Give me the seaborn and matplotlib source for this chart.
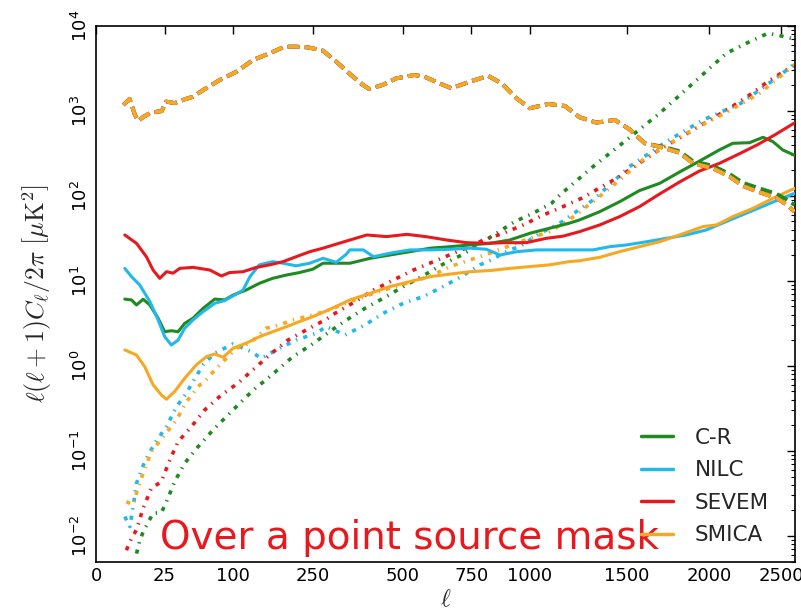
import numpy as np
import pandas as pd
import matplotlib
matplotlib.use("Agg")
import matplotlib.pyplot as plt
from matplotlib.lines import Line2D
import seaborn as sns

# ---- data: multipole ell and D_ell = ell(ell+1)C_ell/2pi [uK^2] ----
cmb_ell = [4, 6, 8, 9.5, 12, 16, 20, 23, 26, 33, 42, 50, 61, 81, 105, 131, 160, 189,
           213, 239, 274, 307, 346, 379, 397, 437, 479, 539, 574, 627, 672, 744, 818,
           875, 941, 1001, 1088, 1169, 1244, 1332, 1432, 1515, 1602, 1700, 1811, 1896,
           2025, 2136, 2227, 2342, 2460, 2540, 2596]
cmb_val = [1170, 1380, 900, 760, 850, 950, 975, 990, 1280, 1230, 1365, 1460, 1750, 2290,
           2880, 3950, 4730, 5660, 5660, 5560, 5080, 3780, 2630, 2010, 1800, 2010, 2400,
           2630, 2510, 2100, 1840, 2200, 2570, 2100, 1400, 1070, 1200, 1140, 838, 725,
           779, 603, 414, 372, 321, 241, 210, 168, 130, 110, 95, 78, 65]
cmb_cr_val = [1170, 1380, 900, 760, 850, 950, 975, 990, 1280, 1230, 1365, 1460, 1750, 2290,
              2880, 3950, 4730, 5660, 5660, 5560, 5080, 3780, 2630, 2010, 1800, 2010, 2400,
              2630, 2510, 2100, 1840, 2200, 2570, 2100, 1400, 1070, 1200, 1140, 838, 725,
              779, 603, 414, 380, 335, 255, 225, 180, 142, 122, 106, 90, 78]

cr_ell = [4.4, 6.7, 8.7, 11.8, 15.4, 20.5, 25.1, 30.2, 35.8, 41.8, 50, 61, 75, 88, 100,
          120, 142, 166, 193, 220, 250, 274, 307, 343, 400, 459, 524, 594, 667, 744, 825,
          911, 1001, 1094, 1190, 1243, 1350, 1458, 1571, 1690, 1811, 1936, 2066, 2157,
          2272, 2367, 2438, 2510, 2596]
cr_val = [6.1, 5.96, 5.2, 6.07, 5.2, 3.63, 2.52, 2.59, 2.52, 3.16, 3.63, 4.75, 6.1, 5.96,
          6.8, 7.8, 9.35, 10.7, 11.7, 12.5, 13.7, 16.1, 16.1, 16.1, 18.4, 20.1, 22.0, 24.2,
          25.2, 26.4, 27.6, 30.2, 36.2, 41.5, 47.5, 51.9, 65, 85, 115, 140, 190, 255, 345,
          414, 421, 487, 433, 345, 300]

nilc_ell = [4.4, 6.7, 10.2, 15.4, 20.5, 25.1, 30.2, 35.8, 41.8, 50, 61, 75, 88, 102, 115,
            126, 142, 166, 186, 213, 243, 274, 307, 333, 343, 380, 410, 459, 524, 594, 667,
            744, 811, 868, 941, 1033, 1128, 1236, 1314, 1404, 1497, 1612, 1730, 1853, 1981,
            2113, 2249, 2389, 2535, 2596]
nilc_val = [14.0, 11.2, 8.9, 5.7, 3.47, 2.2, 1.76, 2.01, 2.77, 3.47, 4.34, 5.44, 5.85, 6.8,
            7.8, 11.2, 15.4, 16.8, 16.1, 15.0, 16.1, 18.4, 16.5, 20.5, 23.1, 23.1, 19.2, 21.1,
            23.1, 23.1, 23.5, 24.2, 23.5, 20.1, 22.0, 23.1, 23.1, 23.1, 23.1, 25.2, 26.4, 28.8,
            31.6, 34.6, 39.6, 49.7, 62.3, 78, 98, 107]

sevem_ell = [4.4, 8.7, 13.5, 17.3, 21.6, 26.4, 31.6, 37.3, 50, 68.8, 83.6, 95, 115, 137,
             160, 186, 213, 243, 274, 307, 343, 390, 449, 514, 581, 654, 730, 811, 897, 985,
             1079, 1160, 1243, 1350, 1458, 1571, 1690, 1811, 1936, 2066, 2199, 2330, 2460,
             2596]
sevem_val = [34.6, 27.6, 19.2, 13.4, 10.7, 12.8, 12.3, 14.0, 14.4, 13.4, 11.4, 12.5, 12.8,
             14.4, 15.4, 16.8, 19.2, 22.0, 24.2, 27.0, 30.2, 34.6, 33.1, 35.2, 33.0, 30.2,
             28.1, 27.6, 28.1, 28.1, 31.6, 33.5, 37.8, 45.4, 56.8, 74.4, 105, 145, 195, 240,
             310, 400, 530, 720]

smica_ell = [4.4, 8.7, 12.6, 17.3, 22.7, 26.4, 32.9, 41.8, 53.6, 64.8, 74.9, 85.9, 99.8,
             120, 142, 166, 193, 220, 250, 290, 343, 400, 459, 524, 594, 667, 744, 825, 911,
             1001, 1094, 1190, 1243, 1350, 1458, 1571, 1690, 1811, 1960, 2048, 2157, 2296,
             2438, 2596]
smica_val = [1.54, 1.34, 0.98, 0.6, 0.455, 0.405, 0.5, 0.714, 1.03, 1.28, 1.38, 1.26, 1.61,
             1.85, 2.2, 2.52, 2.89, 3.31, 3.79, 4.6, 5.96, 7.14, 8.54, 9.78, 11.2, 12.0, 12.8,
             13.2, 14.0, 14.7, 15.4, 16.8, 17.2, 18.9, 22, 25.2, 28.8, 34.6, 43.4, 45.4,
             56.8, 71.2, 93.5, 122]

# noise spectra (dash-dot)
cr_noise_ell = [8.7, 10, 11.8, 17.3, 22.7, 26.4, 32.9, 41.8, 55.4, 72.8, 92.7, 115, 139,
                151, 206, 246, 290, 334, 385, 439, 502, 564, 636, 711, 798, 853, 933, 1016,
                1104, 1144, 1314, 1497, 1690, 1896, 2113, 2249, 2401, 2471, 2570, 2596]
cr_noise_val = [0.0062, 0.0085, 0.0112, 0.0185, 0.0188, 0.0253, 0.0435, 0.0716, 0.112,
                0.176, 0.265, 0.397, 0.58, 0.66, 1.28, 1.76, 2.52, 3.47, 4.75, 6.24, 8.54,
                11.2, 15.4, 20.1, 28.8, 36.2, 49.7, 62.3, 81.6, 102, 220, 453, 933, 2100,
                4730, 6200, 8130, 7760, 7110, 6900]

nilc_noise_ell = [4.4, 6.1, 7.3, 8.7, 12.6, 18.3, 26.4, 34.4, 43.4, 50, 61, 75, 100, 128,
                  145, 179, 213, 258, 282, 330, 385, 439, 502, 570, 636, 705, 784, 825, 911,
                  955, 1048, 1144, 1227, 1314, 1514, 1730, 1960, 2213, 2460, 2570, 2596]
nilc_noise_val = [0.0169, 0.0129, 0.022, 0.0417, 0.0748, 0.123, 0.193, 0.331, 0.476, 0.652,
                  1.03, 1.41, 1.81, 1.47, 1.23, 1.61, 2.01, 2.42, 2.89, 2.31, 3.03, 4.15,
                  5.44, 6.52, 8.4, 11.0, 15.4, 17.3, 23.1, 25.2, 36.2, 47.5, 65, 89, 220, 433,
                  778, 1225, 2410, 3300, 3600]

sevem_noise_ell = [4.9, 6.7, 8.7, 11.8, 16.3, 22.7, 28.9, 35.8, 48.4, 62.8, 83.6, 107, 160,
                   196, 235, 282, 304, 357, 410, 470, 536, 606, 680, 758, 798, 882, 971,
                   1064, 1160, 1254, 1458, 1670, 1896, 2136, 2272, 2401, 2535, 2596]
sevem_noise_val = [0.0068, 0.0094, 0.0118, 0.0212, 0.0364, 0.0435, 0.078, 0.128, 0.193,
                   0.303, 0.455, 0.624, 1.34, 2.01, 2.64, 3.53, 4.15, 5.69, 7.8, 10.2, 13.4,
                   16.8, 21.1, 26.4, 30.2, 36.2, 45.4, 59.4, 74.5, 93.5, 168, 330, 594, 1070,
                   1530, 2200, 3010, 3400]

smica_noise_ell = [4.9, 7.3, 8.7, 11.8, 16.3, 24, 34.4, 43.4, 57.2, 61, 75, 88, 105, 126,
                   154, 179, 206, 235, 282, 343, 400, 459, 524, 594, 667, 744, 832, 919,
                   1001, 1094, 1190, 1236, 1404, 1591, 1896, 2113, 2342, 2560, 2596]
smica_noise_val = [0.0253, 0.0231, 0.0318, 0.0546, 0.098, 0.147, 0.231, 0.379, 0.596,
                   0.624, 0.893, 1.17, 1.61, 1.85, 2.77, 3.03, 3.47, 3.79, 4.4, 5.7, 6.9,
                   8.2, 9.6, 11.3, 14.7, 17.6, 21.4, 26.4, 31.6, 37.8, 51.9, 62.3, 122, 265,
                   600, 950, 1600, 3100, 3500]

methods = ["C-R", "NILC", "SEVEM", "SMICA"]
xtick_vals = [0, 25, 100, 250, 500, 750, 1000, 1500, 2000, 2500]
xtick_labels = ["0", "25", "100", "250", "500", "750", "1000", "1500", "2000", "2500"]
ytick_vals = [1e-2, 1e-1, 1e0, 1e1, 1e2, 1e3, 1e4]

colors = {"C-R": "#1f8a1f", "NILC": "#22b8ec", "SEVEM": "#e8191e", "SMICA": "#f7a823"}

solid = {"C-R": (cr_ell, cr_val), "NILC": (nilc_ell, nilc_val),
         "SEVEM": (sevem_ell, sevem_val), "SMICA": (smica_ell, smica_val)}
noise = {"C-R": (cr_noise_ell, cr_noise_val), "NILC": (nilc_noise_ell, nilc_noise_val),
         "SEVEM": (sevem_noise_ell, sevem_noise_val),
         "SMICA": (smica_noise_ell, smica_noise_val)}
model = {"C-R": (cmb_ell, cmb_cr_val), "NILC": (cmb_ell, cmb_val),
         "SEVEM": (cmb_ell, cmb_val), "SMICA": (cmb_ell, cmb_val)}

sns.set_theme(style="white")
plt.rcParams["font.family"] = ["DejaVu Sans"]
plt.rcParams["mathtext.fontset"] = "cm"
plt.rcParams["lines.scale_dashes"] = False

fig = plt.figure(figsize=(8.01, 6.16), dpi=100)
ax = fig.add_axes([0.1199, 0.0877, 0.8727, 0.8706])

ax.set_xscale("function", functions=(lambda v: np.sqrt(np.clip(v, 0, None)),
                                     lambda v: np.square(v)))
ax.set_yscale("log")

handles = []
for m in methods:
    e, v = solid[m]
    df = pd.DataFrame({"ell": e, "D": v})
    sns.lineplot(data=df, x="ell", y="D", ax=ax, color=colors[m], lw=2.2,
                 estimator=None, sort=False, legend=False, zorder=3)
    handles.append(Line2D([], [], color=colors[m], lw=2.5))

for m in methods:
    e, v = noise[m]
    df = pd.DataFrame({"ell": e, "D": v})
    sns.lineplot(data=df, x="ell", y="D", ax=ax, color=colors[m], lw=2.6,
                 linestyle=(0, (3, 4.5, 1, 4.5)), estimator=None, sort=False,
                 legend=False, zorder=2)

for m in methods:
    e, v = model[m]
    df = pd.DataFrame({"ell": e, "D": v})
    sns.lineplot(data=df, x="ell", y="D", ax=ax, color=colors[m], lw=2.8,
                 linestyle=(0, (8.5, 3.8)), estimator=None, sort=False,
                 legend=False, zorder=4)

ax.set_xlim(0, 2600)
ax.set_ylim(10 ** -2.306, 1e4)
ax.set_xticks(xtick_vals)
ax.set_xticklabels(xtick_labels)
ax.xaxis.set_minor_locator(matplotlib.ticker.NullLocator())
ax.yaxis.set_major_locator(matplotlib.ticker.FixedLocator(ytick_vals))
ax.yaxis.set_minor_locator(matplotlib.ticker.LogLocator(base=10, subs=np.arange(2, 10),
                                                       numticks=20))

ax.tick_params(axis="both", which="both", direction="in", top=True, right=True,
               colors="black", labelsize=13)
ax.tick_params(which="major", length=6, width=1)
ax.tick_params(which="minor", length=3, width=0.8)
for lab in ax.get_yticklabels():
    lab.set_rotation(90)
    lab.set_va("center")
for sp in ax.spines.values():
    sp.set_color("black")
    sp.set_linewidth(1.2)

ax.set_xlabel(r"$\ell$", fontsize=17, labelpad=2)
ax.set_ylabel(r"$\ell(\ell+1)C_\ell/2\pi\ \left[\mu\mathrm{K}^2\right]$", fontsize=18.5,
              labelpad=12)

ax.legend(handles, methods, loc="lower right", frameon=False, fontsize=15.5,
          handlelength=1.5, handletextpad=1.0, labelspacing=0.58,
          bbox_to_anchor=(0.99, -0.005))

ax.text(0.449, 0.045, "Over a point source mask", transform=ax.transAxes,
        ha="center", va="center", color="#e8191e", fontsize=28, zorder=3)

fig.savefig("out.png", dpi=100)
